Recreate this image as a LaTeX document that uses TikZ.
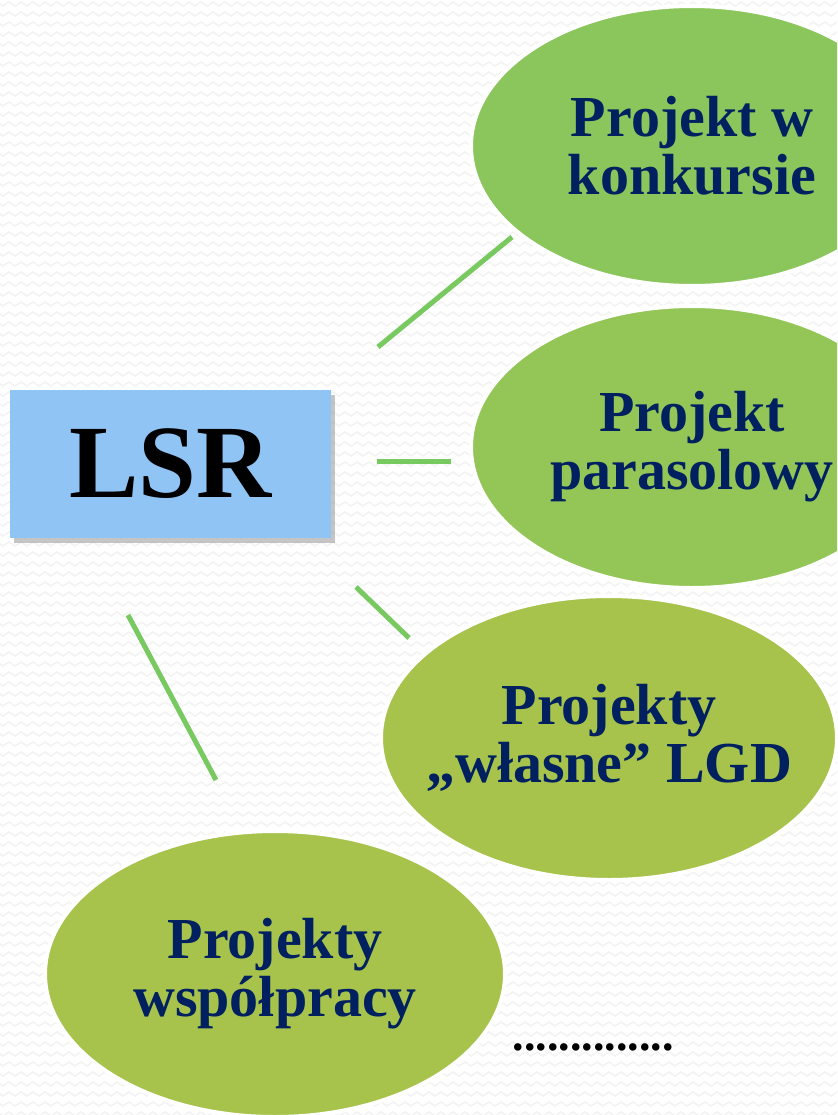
\documentclass[tikz,border=0pt]{standalone}
\usepackage{fontspec}
\setmainfont{Liberation Serif}
\usetikzlibrary{shapes.geometric,shadows,decorations.pathmorphing}
\definecolor{lsrblue}{RGB}{144,196,244}
\definecolor{grnlight}{RGB}{139,198,92}
\definecolor{grnmid}{RGB}{147,198,87}
\definecolor{grnolive}{RGB}{168,195,76}
\definecolor{linkgrn}{RGB}{119,201,96}
\definecolor{navytxt}{RGB}{0,32,96}
\definecolor{zigbg}{RGB}{243,243,243}
\begin{document}
\begin{tikzpicture}[x=1pt, y=-1pt,
    bigtxt/.style={font=\bfseries\fontsize{58}{58}\selectfont, text=navytxt, align=center},
    oval/.style={ellipse, bigtxt, draw=white, line width=4pt, inner xsep=-40pt, inner ysep=0pt},
    link/.style={linkgrn, line width=5pt},
    bgzig/.style={zigbg, line width=1.6pt, decorate, decoration={zigzag, segment length=12pt, amplitude=2pt}}]
    \useasboundingbox (0,0) rectangle (837,1115);
    \clip (0,0) rectangle (837,1115);
    \fill[white] (0,0) rectangle (837,1115);
    \foreach \r in {4,14,...,1124} \draw[bgzig] (-6,\r) -- (845,\r); % wavy backdrop
    \node[fill=lsrblue, minimum width=321pt, minimum height=148pt, inner sep=0pt,
        drop shadow={shadow xshift=4pt, shadow yshift=-5pt, fill=black!45},
        font=\bfseries\fontsize{104}{110}\selectfont] (lsr) at (170.5,464) {LSR};
    \node[oval, fill=grnlight, minimum width=442pt, minimum height=280pt] (konk) at (692,146) {Projekt w\\konkursie};
    \node[oval, fill=grnmid, minimum width=442pt, minimum height=282pt] (paras) at (692,447) {Projekt\\parasolowy};
    \node[oval, fill=grnolive, minimum width=456pt, minimum height=284pt] (wlasne) at (609,738) {Projekty\\„własne” LGD};
    \node[oval, fill=grnolive, minimum width=460pt, minimum height=286pt] (wspol) at (275,974) {Projekty\\współpracy};
    \node[font=\bfseries\fontsize{46}{50}\selectfont, anchor=base] (dots) at (593,1050) {..............};
    \coordinate (k1) at (378,347); \coordinate (k2) at (512,237);
    \coordinate (p1) at (377,461); \coordinate (p2) at (451,461);
    \coordinate (w1) at (356,587); \coordinate (w2) at (409,638);
    \coordinate (s1) at (128,615); \coordinate (s2) at (216,780);
    \foreach \a/\b in {k1/k2,p1/p2,w1/w2,s1/s2} \draw[link] (\a) -- (\b);
\end{tikzpicture}
\end{document}
